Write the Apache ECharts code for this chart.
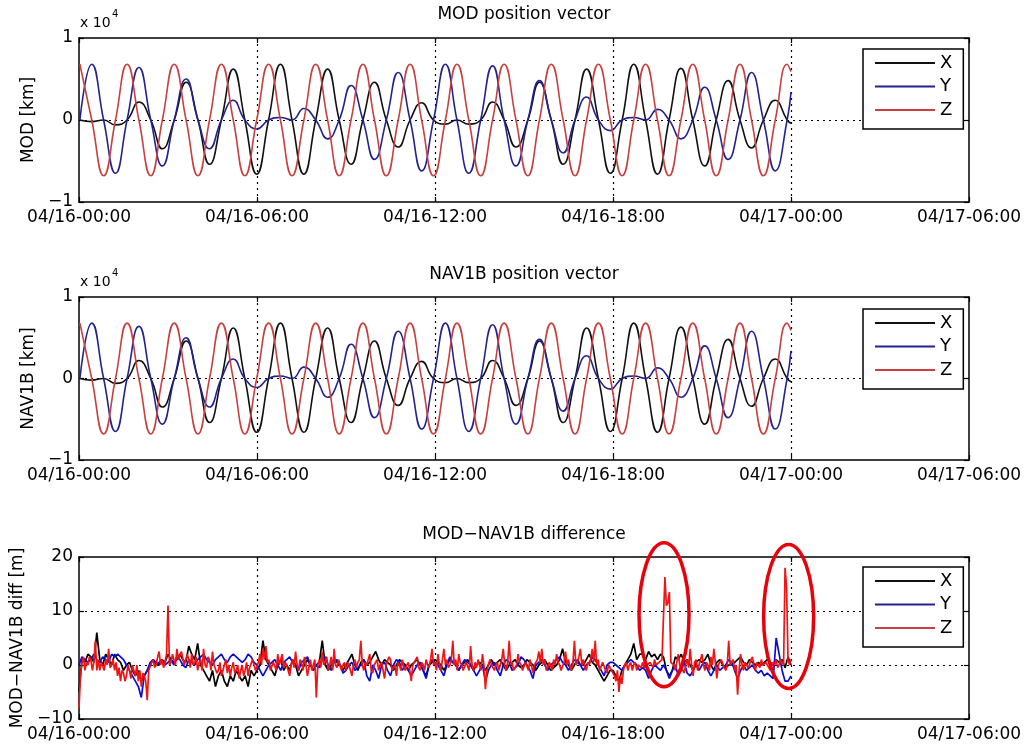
<!DOCTYPE html>
<html><head><meta charset="utf-8">
<script src="https://cdn.jsdelivr.net/npm/echarts@6/dist/echarts.min.js"></script>
<style>html,body{margin:0;padding:0;background:#fff}#c{width:1034px;height:749px}</style>
</head><body><div id="c"></div><script>
// x tick labels (hours 0,6,...,30 from 04/16-00:00)
const xTickLabels = ['04/16-00:00','04/16-06:00','04/16-12:00','04/16-18:00','04/17-00:00','04/17-06:00'];
const titles = ['MOD position vector','NAV1B position vector','MOD\u2212NAV1B difference'];
const yNames = ['MOD [km]','NAV1B [km]','MOD\u2212NAV1B diff [m]'];
const seriesNames = ['X','Y','Z'];

// position vectors (x 10^4 km), read at quarter-orbit points (hours)
const posTimes = [0.03,0.43,0.83,1.23,1.62,2.02,2.42,2.81,3.21,3.61,4.01,4.40,4.80,5.20,5.59,5.99,6.39,6.79,7.18,7.58,7.98,8.38,8.77,9.17,9.57,9.96,10.36,10.76,11.16,11.55,11.95,12.35,12.74,13.14,13.54,13.94,14.33,14.73,15.13,15.52,15.92,16.32,16.72,17.11,17.51,17.91,18.31,18.70,19.10,19.50,19.89,20.29,20.69,21.09,21.48,21.88,22.28,22.67,23.07,23.47,23.87,24.00];
const posX = [0,-0.02,0,-0.06,0,0.22,0,-0.35,0,0.46,0,-0.54,0,0.62,0,-0.66,0,0.68,0,-0.66,0,0.62,0,-0.54,0,0.46,0,-0.33,0,0.21,0,-0.05,0,-0.05,0,0.22,0,-0.33,0,0.46,0,-0.54,0,0.62,0,-0.65,0,0.68,0,-0.66,0,0.63,0,-0.56,0,0.48,0,-0.34,0,0.24,0,-0.04];
const posY = [0,0.68,0,-0.65,0,0.64,0,-0.56,0,0.50,0,-0.35,0,0.24,0,-0.11,0,0.03,0,0.14,0,-0.23,0,0.42,0,-0.48,0,0.58,0,-0.62,0,0.68,0,-0.65,0,0.66,0,-0.56,0,0.48,0,-0.40,0,0.28,0,-0.13,0,0.03,0,0.13,0,-0.23,0,0.40,0,-0.48,0,0.58,0,-0.62,0,0.34];
const posZ = [0.68,0,-0.68,0,0.68,0,-0.68,0,0.68,0,-0.68,0,0.68,0,-0.68,0,0.68,0,-0.68,0,0.68,0,-0.68,0,0.68,0,-0.68,0,0.68,0,-0.68,0,0.68,0,-0.68,0,0.68,0,-0.68,0,0.68,0,-0.68,0,0.68,0,-0.68,0,0.68,0,-0.68,0,0.68,0,-0.68,0,0.68,0,-0.68,0,0.68,0.59];
// NAV1B position vector is indistinguishable from MOD at this scale
const navX = posX, navY = posY, navZ = posZ;

// MOD-NAV1B difference (m); X and Y sampled every 0.1 h, Z every 0.05 h from 04/16-00:00
const diffStepXY = 0.1;
const diffStepZ = 0.05;
const diffX = [
-5,1,0.5,2,1.5,0.5,6,1,0,2,
1,0,2,1,0.5,-1,0,0.5,-1,-2,
-1,-3,-2,-1,0,1,0.5,0,1,0.5,
2,1,0.5,1,2,1,0.5,3.5,2,1,
4,0,-1,-2,-3,-1,-4,-2,-1,-3,
-4,-2,-3,-1,-2,-3,-2,-4,-1,-2,
-1,0,4.5,1,0,-1,-2,0,1,-1,
0,-1,1,0,-2,-1,0,1,0,-1,
0,0.5,4.5,0,-1,0,1,0.5,0,-1,
0,1,2,0,-1,0.5,1,0,0.5,1.5,
2.5,1,0,1,0.5,0,-1,0,1,0.5,
0,-1,0,0.5,1,0,-1,-2,0,0.5,
1,0.5,0,-1,0,1,0.5,0,-1,0,
0.5,1,0,-1,0,0.5,0,-1,0,1,
0,0.5,1,0,-1,0,0.5,1,0,-0.5,
0,1,0.5,0,-1,0,0.5,1,0,-1,
-0.5,0,1,3,0.5,0,-1,0,1,0,
0,1,2,0.5,0,-1,-2,-3,-2,-1,
-1,-2,-3,-1,0,1,2,4,1,2,
2,1,2.5,1.5,2,1,2,1.5,-1,-2,
-1,1.5,1,2,0.5,1,0,-1,0.5,1,
0.5,1,2,0,-1,0.5,1,0,-0.5,0,
0,0.5,1,1.5,0.5,0,1,0.5,0,0.5,
0,0.5,1,0.5,0,1,0.5,1,-0.5,1.5,
0];
const diffY = [
0,1.5,1,0.5,1,2,1,0.5,1.5,1,
0.5,2,1.5,2,1.5,1,0,-1,-2,-3,
-4,-6,-2,-1,0.5,1,0,0.5,1,0,
0.5,1,0,1.5,1,0,-0.5,1,0.5,0,
1,1.5,2,1,0.5,0,1,1.5,2,1,
0.5,1.5,2,1.5,1,0.5,1,2,1.5,0.5,
0,-1,-2,-1,0,0.5,1,0,-1,0.5,
1,1.5,0.5,0,-1,0.5,1,1.5,0,-1,
0,-0.5,1,1.5,0,-1,0.5,1,0,-1.5,
-1,0,0.5,-1,-0.5,0,1,-2,-3,0,
-1,-2.5,0,0.5,-1,-2,0,1,0.5,-1,
0,-1,-2,-1,0,0.5,-1,-2.5,0,1,
0.5,0,-1,-2,0,1.5,0.5,0,-1,0,
1,0.5,0,-1,-2,-1,0,-3,-1,0,
0.5,-1,-2,0,1,0.5,-1,-0.5,0,1.5,
1,0,-1,-2.5,0,0.5,1,0,-1,0,
0.5,1,1.5,0.5,0,-1,0,1,0.5,0,
-1,0,0.5,1.5,1,0,-1,-2,0,0.5,
0.5,0,-0.5,-1,0,0.5,1,0.5,0,-1,
-0.5,-1,-2.5,-1,0,-0.5,-1,0,-1,-2.5,
-1,0,-2,-1,0.5,-1.5,-2,-1,0,-1,
0,0.5,-1,-2,-1,0,-1,-0.5,0,1,
0.5,-1,-2.5,-1,0,-1,-0.5,0,-1,-1.5,
-1,-2,-1.5,-2,-2.5,5,2,-1,-3,-3,
-2];
const diffZ = [
-8,-2,0.5,1.5,-1,0.5,0,1.5,1,-1,0.5,4.5,-1,1,-1,0.5,0.5,-1,1,0,
3,-0.5,0,1,-1,0.5,-2,-0.5,-3,-1,-1.5,-3,-2,0,-1,-2.5,0,-1,-2,0,
-3,-1,-4,-1.5,-2,-3,-6.5,-1,-1,0.5,1,-0.5,0,1.5,2.5,0,1,-0.5,0.5,2,
11,0,0.5,2,2,0,3,1,1,2.5,2.5,0,0,2,1,-0.5,2,0,0.5,1.5,
-1,0.5,1,-1,3,0,-0.5,1.5,1,-1,2.5,0,0,-1.5,-1,0.5,-2,-1,0,1,
-1.5,0,-2,-0.5,0.5,-1.5,-1,0,-2.5,-1,0,-2,-1,0.5,-2,-0.5,-0.5,1,0,-1,
-1,0.5,2,0,3,1,3.5,0.5,1,-1,-1,0.5,0.5,-1,2,0,1,2,-0.5,0.5,
0,-1,-2,0,1,-0.5,2.5,0,-1,1,0.5,-1,1.5,0,-2,-0.5,1,-1,0,1,
-6,0,1,-0.5,2.5,0,0,1.5,-1,0,1.5,-1,3,0,-0.5,1,1,-1,0,0.5,
-1,0.5,0,-1,-2,0,1,-0.5,0.5,1,4.5,0,-1,0.5,0,1,2,-1,-1.5,0,
0,1,-1,0,0.5,-1,-2.5,0,0,1.5,1,-1,-1,0,-2,0.5,0,-1,1,-0.5,
-1,0,0.5,-1,-3,0,0,1,1.5,-0.5,-1,0.5,0,-1,1,0,-0.5,1,3,0,
0.5,-1,2,0,-1,1,3,0,1,-0.5,0,1,4.5,0,1,-1,2,0.5,0,-1,
-1,0.5,0.5,-1,3.5,0,-1,0.5,-0.5,1,1,-1,2,0,-4.5,-1,0,1,1,-0.5,
-1,0,0.5,-1,0,1,3,0,-1,0.5,4.5,0,0.5,-1,-1,0,2,0.5,0,-1,
-1,0.5,0.5,-1,1,0,-1.5,0,0,1,2.5,0.5,3,0,1,-1,-0.5,0.5,0,-1,
1,0,2,0.5,0,-1,-1,0.5,2.5,0,1,-0.5,-1,0.5,4.5,0,0.5,1.5,3,0,
1,-0.5,-1,0.5,0,1,3,0.5,4.5,0,1,-1,-1,0.5,0.5,-1,-1.5,0,0,-1,
-1,-2,-3,-1,-5,-2,-3.5,-1,0,0.5,-1,0,0.5,-1,0,0.5,-1,0,0,-0.5,
0.5,-0.5,-0.5,0,0,0.5,0.5,-0.5,1,0,0,0.5,0.5,1,1,16.3,11,11.5,13.5,0.5,
0.5,0,-1,0.5,2,0,0,-1,-1.5,0,1,-0.5,3,0,-2,0.5,1,-1,0,1,
2,0,-1,0.5,0,-1,1.5,0,3,0.5,-2.5,0,0,1,1,-0.5,-1,0,4.5,0,
0,1,-1,0,-5.5,-1,2,0,-1,0.5,0.5,-0.5,0,1,1.5,0,-1,0.5,0,-0.5,
1,0,0,0.5,0.5,-0.5,-1,0,0.5,0,1,-0.5,0,1,0.5,0,18,14.5,1,0,
1];
// annotation ellipses (centre hour, centre value)
const ellipses = [[19.72, 9.3], [23.92, 9.0]];

const FONT = 'DejaVu Sans';
const grids = [
  {left:79, top:38, width:890, height:164},
  {left:79, top:297, width:890, height:163},
  {left:79, top:557, width:890, height:162}
];
const minus = v => v < 0 ? '\u2212' + Math.abs(v) : String(v);
const gridLine = {show:true, showMinLine:false, showMaxLine:false, lineStyle:{color:'#000', type:[2,4], width:1.2}};
const axLine = {show:true, onZero:false, lineStyle:{color:'#000', width:1.5}};
const tick = {show:true, inside:true, length:5, lineStyle:{color:'#000', width:1.2}};

const xAxes = [], yAxes = [];
const yRanges = [[-1,1,1],[-1,1,1],[-10,20,10]];
grids.forEach((g, i) => {
  xAxes.push({type:'value', gridIndex:i, min:0, max:30, interval:6, position:'bottom',
    axisLine:axLine, axisTick:tick, splitLine:gridLine,
    axisLabel:{formatter:v => xTickLabels[Math.round(v/6)], color:'#000', fontSize:17, fontFamily:FONT, margin:7}});
  xAxes.push({type:'value', gridIndex:i, min:0, max:30, interval:6, position:'top',
    axisLine:axLine, axisTick:tick, splitLine:{show:false}, axisLabel:{show:false}});
  const r = yRanges[i];
  yAxes.push({type:'value', gridIndex:i, min:r[0], max:r[1], interval:r[2], position:'left',
    name:yNames[i], nameLocation:'middle', nameRotate:90, nameGap: i===2 ? 50 : 40,
    nameTextStyle:{color:'#000', fontSize:17, fontFamily:FONT},
    axisLine:axLine, axisTick:tick, splitLine:gridLine,
    axisLabel:{formatter:minus, color:'#000', fontSize:17, fontFamily:FONT, margin:6}});
  yAxes.push({type:'value', gridIndex:i, min:r[0], max:r[1], interval:r[2], position:'right',
    axisLine:axLine, axisTick:tick, splitLine:{show:false}, axisLabel:{show:false}});
});

const pair = (ts, vs) => ts.map((t, k) => [t, vs[k]]);
const stepPair = (vs, step) => vs.map((v, k) => [+(k * step).toFixed(3), v]);

const topColors = ['#111111', '#23238f', '#c8403f'];
const botColors = ['#000000', '#0a0ad8', '#f01414'];
const series = [];
[[posX,posY,posZ],[navX,navY,navZ]].forEach((set, gi) => {
  set.forEach((vals, si) => series.push({
    type:'line', name:seriesNames[si], xAxisIndex:gi*2, yAxisIndex:gi*2,
    data:pair(posTimes, vals), smooth:0.5, showSymbol:false, symbol:'none',
    lineStyle:{color:topColors[si], width:1.6}, itemStyle:{color:topColors[si]}
  }));
});
[[diffX, diffStepXY], [diffY, diffStepXY], [diffZ, diffStepZ]].forEach(([vals, step], si) => series.push({
  type:'line', name:seriesNames[si], xAxisIndex:4, yAxisIndex:4,
  data:stepPair(vals, step), showSymbol:false, symbol:'none',
  lineStyle:{color:botColors[si], width:1.7}, itemStyle:{color:botColors[si]}
}));

const legendTops = [49, 309, 567];
const legends = legendTops.map(t => ({
  left:863, top:t, orient:'vertical', data:seriesNames, icon:'rect', itemWidth:60, itemHeight:2,
  itemGap:5.5, padding:[5,11,10,12], backgroundColor:'#fff', borderColor:'#000', borderWidth:1.5,
  selectedMode:false, textStyle:{color:'#000', fontSize:18, fontFamily:FONT, lineHeight:18}
}));
const titleTops = [6, 266, 526];
const titleComps = titles.map((s, i) => ({text:s, left:524, top:titleTops[i], textAlign:'center',
  padding:0, textStyle:{color:'#000', fontSize:17, fontWeight:'normal', fontFamily:FONT}}));

const chart = echarts.init(document.getElementById('c'), null, {renderer:'canvas'});
chart.setOption({
  animation:false, backgroundColor:'#fff',
  title:titleComps, grid:grids, xAxis:xAxes, yAxis:yAxes, legend:legends, series:series
});

const gfx = [];
[[25, 38], [284, 297]].forEach(([cy]) => {
  gfx.push({type:'text', left:80, top:cy-9, style:{text:'x 10', fill:'#000', font:'14px "DejaVu Sans"'}});
  gfx.push({type:'text', left:112, top:cy-16, style:{text:'4', fill:'#000', font:'10px "DejaVu Sans"'}});
});
ellipses.forEach(([t, v]) => {
  const p = chart.convertToPixel({xAxisIndex:4, yAxisIndex:4}, [t, v]);
  gfx.push({type:'ellipse', shape:{cx:p[0], cy:p[1], rx:25, ry:72}, z:100,
    style:{stroke:'#e8000b', lineWidth:3.5, fill:null}});
});
chart.setOption({graphic:gfx});
</script></body></html>
